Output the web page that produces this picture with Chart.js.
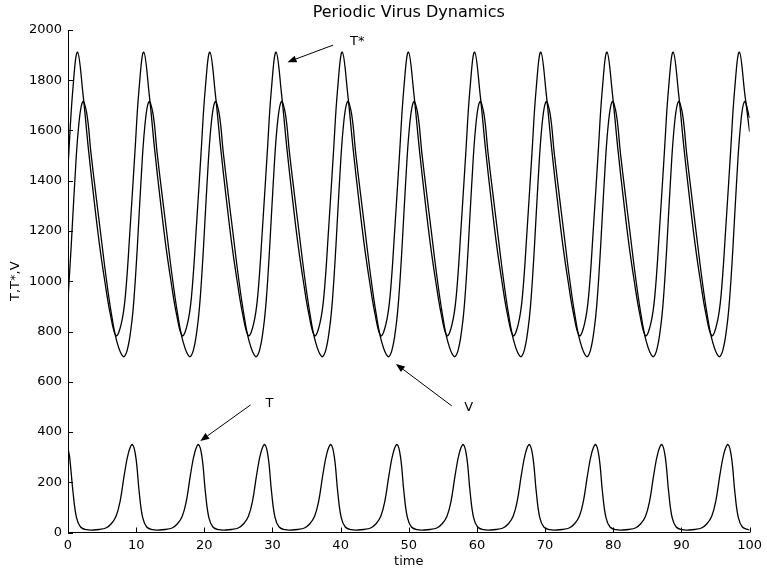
<!DOCTYPE html>
<html>
<head>
<meta charset="utf-8">
<title>Periodic Virus Dynamics</title>
<script src="https://cdn.jsdelivr.net/npm/chart.js@4/dist/chart.umd.min.js"></script>
<style>
  html, body { margin: 0; padding: 0; background: #fff; }
  canvas { display: block; }
</style>
</head>
<body>
<canvas id="grafica" width="767" height="571"></canvas>
<script>
// valores: [tiempo, valor]
const xTicks = [0, 10, 20, 30, 40, 50, 60, 70, 80, 90, 100];
const yTicks = [0, 200, 400, 600, 800, 1000, 1200, 1400, 1600, 1800, 2000];

const serieTStar = [
  [0,1455],[0.70,1760],
  [1.40,1912],[2.20,1745],[3.00,1525],[3.80,1330],[4.60,1150],[5.40,1000],[6.20,870],[7.06,783],[7.81,830],[8.41,940],[9.11,1210],[9.81,1510],[10.41,1760],
  [11.11,1912],[11.91,1745],[12.71,1525],[13.51,1330],[14.31,1150],[15.11,1000],[15.91,870],[16.77,783],[17.52,830],[18.12,940],[18.82,1210],[19.52,1510],[20.12,1760],
  [20.82,1912],[21.62,1745],[22.42,1525],[23.22,1330],[24.02,1150],[24.82,1000],[25.62,870],[26.48,783],[27.23,830],[27.83,940],[28.53,1210],[29.23,1510],[29.83,1760],
  [30.53,1912],[31.33,1745],[32.13,1525],[32.93,1330],[33.73,1150],[34.53,1000],[35.33,870],[36.19,783],[36.94,830],[37.54,940],[38.24,1210],[38.94,1510],[39.54,1760],
  [40.24,1912],[41.04,1745],[41.84,1525],[42.64,1330],[43.44,1150],[44.24,1000],[45.04,870],[45.90,783],[46.65,830],[47.25,940],[47.95,1210],[48.65,1510],[49.25,1760],
  [49.95,1912],[50.75,1745],[51.55,1525],[52.35,1330],[53.15,1150],[53.95,1000],[54.75,870],[55.61,783],[56.36,830],[56.96,940],[57.66,1210],[58.36,1510],[58.96,1760],
  [59.66,1912],[60.46,1745],[61.26,1525],[62.06,1330],[62.86,1150],[63.66,1000],[64.46,870],[65.32,783],[66.07,830],[66.67,940],[67.37,1210],[68.07,1510],[68.67,1760],
  [69.37,1912],[70.17,1745],[70.97,1525],[71.77,1330],[72.57,1150],[73.37,1000],[74.17,870],[75.03,783],[75.78,830],[76.38,940],[77.08,1210],[77.78,1510],[78.38,1760],
  [79.08,1912],[79.88,1745],[80.68,1525],[81.48,1330],[82.28,1150],[83.08,1000],[83.88,870],[84.74,783],[85.49,830],[86.09,940],[86.79,1210],[87.49,1510],[88.09,1760],
  [88.79,1912],[89.59,1745],[90.39,1525],[91.19,1330],[91.99,1150],[92.79,1000],[93.59,870],[94.45,783],[95.20,830],[95.80,940],[96.50,1210],[97.20,1510],[97.80,1760],
  [98.50,1912],[99.30,1745],[100,1595]
];

const serieV = [
  [0,930],[0.47,1140],[0.97,1385],[1.57,1620],
  [2.17,1715],[2.77,1665],[3.37,1510],[4.07,1350],[4.77,1195],[5.57,1020],[6.37,870],[7.17,760],[8.10,700],[8.68,725],[9.28,820],[9.68,930],[10.18,1140],[10.68,1385],[11.28,1620],
  [11.88,1715],[12.48,1665],[13.08,1510],[13.78,1350],[14.48,1195],[15.28,1020],[16.08,870],[16.88,760],[17.81,700],[18.39,725],[18.99,820],[19.39,930],[19.89,1140],[20.39,1385],[20.99,1620],
  [21.59,1715],[22.19,1665],[22.79,1510],[23.49,1350],[24.19,1195],[24.99,1020],[25.79,870],[26.59,760],[27.52,700],[28.10,725],[28.70,820],[29.10,930],[29.60,1140],[30.10,1385],[30.70,1620],
  [31.30,1715],[31.90,1665],[32.50,1510],[33.20,1350],[33.90,1195],[34.70,1020],[35.50,870],[36.30,760],[37.23,700],[37.81,725],[38.41,820],[38.81,930],[39.31,1140],[39.81,1385],[40.41,1620],
  [41.01,1715],[41.61,1665],[42.21,1510],[42.91,1350],[43.61,1195],[44.41,1020],[45.21,870],[46.01,760],[46.94,700],[47.52,725],[48.12,820],[48.52,930],[49.02,1140],[49.52,1385],[50.12,1620],
  [50.72,1715],[51.32,1665],[51.92,1510],[52.62,1350],[53.32,1195],[54.12,1020],[54.92,870],[55.72,760],[56.65,700],[57.23,725],[57.83,820],[58.23,930],[58.73,1140],[59.23,1385],[59.83,1620],
  [60.43,1715],[61.03,1665],[61.63,1510],[62.33,1350],[63.03,1195],[63.83,1020],[64.63,870],[65.43,760],[66.36,700],[66.94,725],[67.54,820],[67.94,930],[68.44,1140],[68.94,1385],[69.54,1620],
  [70.14,1715],[70.74,1665],[71.34,1510],[72.04,1350],[72.74,1195],[73.54,1020],[74.34,870],[75.14,760],[76.07,700],[76.65,725],[77.25,820],[77.65,930],[78.15,1140],[78.65,1385],[79.25,1620],
  [79.85,1715],[80.45,1665],[81.05,1510],[81.75,1350],[82.45,1195],[83.25,1020],[84.05,870],[84.85,760],[85.78,700],[86.36,725],[86.96,820],[87.36,930],[87.86,1140],[88.36,1385],[88.96,1620],
  [89.56,1715],[90.16,1665],[90.76,1510],[91.46,1350],[92.16,1195],[92.96,1020],[93.76,870],[94.56,760],[95.49,700],[96.07,725],[96.67,820],[97.07,930],[97.57,1140],[98.07,1385],[98.67,1620],
  [99.27,1715],[100,1650]
];

const serieT = [
  [0,335],[0.24,300],[0.74,160],[1.24,60],[1.84,22],[2.74,11],[3.74,10],[4.55,12],[5.55,18],[6.35,35],[7.05,65],[7.65,125],[8.25,228],[8.85,315],
  [9.45,350],[9.95,300],[10.45,160],[10.95,60],[11.55,22],[12.45,11],[13.45,10],[14.26,12],[15.26,18],[16.06,35],[16.76,65],[17.36,125],[17.96,228],[18.56,315],
  [19.16,350],[19.66,300],[20.16,160],[20.66,60],[21.26,22],[22.16,11],[23.16,10],[23.97,12],[24.97,18],[25.77,35],[26.47,65],[27.07,125],[27.67,228],[28.27,315],
  [28.87,350],[29.37,300],[29.87,160],[30.37,60],[30.97,22],[31.87,11],[32.87,10],[33.68,12],[34.68,18],[35.48,35],[36.18,65],[36.78,125],[37.38,228],[37.98,315],
  [38.58,350],[39.08,300],[39.58,160],[40.08,60],[40.68,22],[41.58,11],[42.58,10],[43.39,12],[44.39,18],[45.19,35],[45.89,65],[46.49,125],[47.09,228],[47.69,315],
  [48.29,350],[48.79,300],[49.29,160],[49.79,60],[50.39,22],[51.29,11],[52.29,10],[53.10,12],[54.10,18],[54.90,35],[55.60,65],[56.20,125],[56.80,228],[57.40,315],
  [58.00,350],[58.50,300],[59.00,160],[59.50,60],[60.10,22],[61.00,11],[62.00,10],[62.81,12],[63.81,18],[64.61,35],[65.31,65],[65.91,125],[66.51,228],[67.11,315],
  [67.71,350],[68.21,300],[68.71,160],[69.21,60],[69.81,22],[70.71,11],[71.71,10],[72.52,12],[73.52,18],[74.32,35],[75.02,65],[75.62,125],[76.22,228],[76.82,315],
  [77.42,350],[77.92,300],[78.42,160],[78.92,60],[79.52,22],[80.42,11],[81.42,10],[82.23,12],[83.23,18],[84.03,35],[84.73,65],[85.33,125],[85.93,228],[86.53,315],
  [87.13,350],[87.63,300],[88.13,160],[88.63,60],[89.23,22],[90.13,11],[91.13,10],[91.94,12],[92.94,18],[93.74,35],[94.44,65],[95.04,125],[95.64,228],[96.24,315],
  [96.84,350],[97.34,300],[97.84,160],[98.34,60],[98.94,22],[99.84,11],[100,11]
];

// etiquetas con flecha, en coordenadas de datos
const notas = [
  { texto: 'T*', en: [42.45, 1953], desde: [38.9, 1940], hasta: [32.2, 1872] },
  { texto: 'V', en: [58.8, 496], desde: [56.3, 504], hasta: [48.1, 671] },
  { texto: 'T', en: [29.55, 513], desde: [26.8, 508], hasta: [19.4, 364] }
];

const aPuntos = serie => serie.map(p => ({ x: p[0], y: p[1] }));

Chart.defaults.font.family = '"DejaVu Sans", sans-serif';
Chart.defaults.font.size = 13;
Chart.defaults.color = '#000';

const marcasYNotas = {
  id: 'marcasYNotas',
  afterDraw(chart) {
    const { ctx, scales: { x, y } } = chart;
    ctx.save();
    ctx.strokeStyle = '#000';
    ctx.fillStyle = '#000';
    ctx.lineWidth = 1;

    // ticks hacia dentro, como en matlab
    ctx.beginPath();
    xTicks.forEach(v => {
      const px = Math.round(x.getPixelForValue(v)) + 0.5;
      ctx.moveTo(px, y.bottom);
      ctx.lineTo(px, y.bottom - 5);
    });
    yTicks.forEach(v => {
      const py = Math.round(y.getPixelForValue(v)) + 0.5;
      ctx.moveTo(x.left, py);
      ctx.lineTo(x.left + 5, py);
    });
    ctx.stroke();

    ctx.font = '13px "DejaVu Sans", sans-serif';
    ctx.textAlign = 'center';
    ctx.textBaseline = 'middle';
    notas.forEach(n => {
      ctx.fillText(n.texto, x.getPixelForValue(n.en[0]), y.getPixelForValue(n.en[1]));
      const x0 = x.getPixelForValue(n.desde[0]), y0 = y.getPixelForValue(n.desde[1]);
      const x1 = x.getPixelForValue(n.hasta[0]), y1 = y.getPixelForValue(n.hasta[1]);
      const ang = Math.atan2(y1 - y0, x1 - x0);
      const largo = 9, ancho = 3.5;
      const bx = x1 - largo * Math.cos(ang), by = y1 - largo * Math.sin(ang);
      ctx.beginPath();
      ctx.moveTo(x0, y0);
      ctx.lineTo(bx, by);
      ctx.stroke();
      ctx.beginPath();
      ctx.moveTo(x1, y1);
      ctx.lineTo(bx + ancho * Math.sin(ang), by - ancho * Math.cos(ang));
      ctx.lineTo(bx - ancho * Math.sin(ang), by + ancho * Math.cos(ang));
      ctx.closePath();
      ctx.fill();
    });
    ctx.restore();
  }
};

const linea = {
  borderColor: '#000',
  borderWidth: 1.3,
  pointRadius: 0,
  tension: 0.4,
  fill: false
};

const ctx = document.getElementById('grafica').getContext('2d');
const grafica = new Chart(ctx, {
  type: 'line',
  data: {
    datasets: [
      Object.assign({ label: 'T*', data: aPuntos(serieTStar) }, linea),
      Object.assign({ label: 'V', data: aPuntos(serieV) }, linea),
      Object.assign({ label: 'T', data: aPuntos(serieT) }, linea)
    ]
  },
  options: {
    responsive: false,
    animation: false,
    devicePixelRatio: 1,
    layout: { padding: { top: 0, right: 12, bottom: 0, left: 0 } },
    plugins: {
      legend: { display: false },
      tooltip: { enabled: false },
      title: {
        display: true,
        text: 'Periodic Virus Dynamics',
        fullSize: false,
        font: { size: 16, weight: 'normal' },
        padding: { top: 3, bottom: 7.8 }
      }
    },
    scales: {
      x: {
        type: 'linear',
        min: 0,
        max: 100,
        afterBuildTicks: s => { s.ticks = xTicks.map(v => ({ value: v })); },
        afterFit: s => { s.height = 38.5; },
        grid: { display: false, drawTicks: false },
        border: { display: true, color: '#000', width: 1 },
        ticks: { padding: 5, maxRotation: 0, callback: v => String(v) },
        title: { display: true, text: 'time', padding: { top: 0, bottom: 1.2 } }
      },
      y: {
        min: 0,
        max: 2000,
        afterBuildTicks: s => { s.ticks = yTicks.map(v => ({ value: v })); },
        afterFit: s => { s.width = 68; },
        grid: { display: false, drawTicks: false },
        border: { display: true, color: '#000', width: 1 },
        ticks: { padding: 6, callback: v => String(v) },
        title: { display: true, text: 'T,T*,V', padding: { top: 8, bottom: 0 } }
      }
    }
  },
  plugins: [marcasYNotas]
});
</script>
</body>
</html>
